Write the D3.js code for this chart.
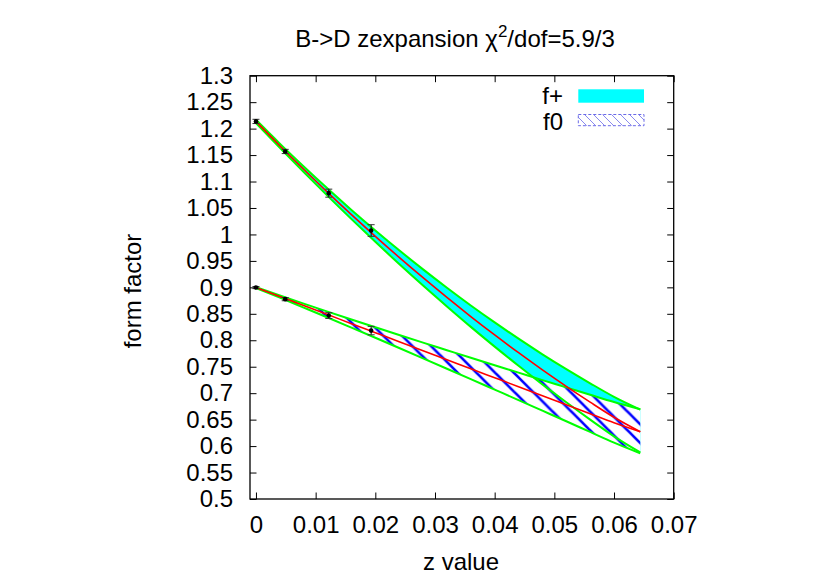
<!DOCTYPE html>
<html><head><meta charset="utf-8">
<script src="https://cdn.jsdelivr.net/npm/d3@7"></script>
<style>
html,body{margin:0;padding:0;background:#fff;}
svg{display:block;font-family:"Liberation Sans",Arial,Helvetica,sans-serif;}
</style></head>
<body><svg id="chart" width="830" height="581"></svg>
<script>
// ---- data ----
const zGrid = [0,0.004,0.008,0.012,0.016,0.020,0.024,0.028,0.032,0.036,0.040,0.044,0.048,0.052,0.056,0.060,0.0644];
const fpCentral = [1.2136,1.1677,1.1231,1.0796,1.0374,0.9965,0.9567,0.9182,0.8810,0.8449,0.8101,0.7765,0.7441,0.7130,0.6831,0.6544,0.6270];
const fpUpper   = [1.2166,1.1716,1.1285,1.0867,1.0464,1.0076,0.9701,0.9340,0.8993,0.8658,0.8338,0.8030,0.7735,0.7455,0.7187,0.6931,0.6690];
const fpLower   = [1.2106,1.1638,1.1179,1.0728,1.0289,0.9860,0.9441,0.9034,0.8639,0.8253,0.7880,0.7518,0.7167,0.6828,0.6500,0.6184,0.5880];
const f0Central = [0.8996,0.8826,0.8655,0.8485,0.8314,0.8144,0.7974,0.7803,0.7633,0.7462,0.7292,0.7122,0.6951,0.6781,0.6610,0.6440,0.6270];
const f0Upper   = [0.9006,0.8847,0.8693,0.8542,0.8393,0.8246,0.8100,0.7955,0.7812,0.7669,0.7528,0.7388,0.7247,0.7109,0.6970,0.6833,0.6696];
const f0Lower   = [0.8986,0.8805,0.8618,0.8430,0.8239,0.8047,0.7853,0.7658,0.7462,0.7265,0.7067,0.6869,0.6669,0.6469,0.6267,0.6066,0.5864];

const ptZ     = [0,0.0049,0.0122,0.0193];
const fpPts   = [1.2136,1.1568,1.0780,1.0074];
const fpErr   = [0.004,0.004,0.0076,0.011];
const f0Pts   = [0.8996,0.8777,0.8467,0.8183];
const f0Err   = [0.002,0.003,0.0055,0.008];

const xTicks = [0,0.01,0.02,0.03,0.04,0.05,0.06,0.07];
const xTickLabels = ["0","0.01","0.02","0.03","0.04","0.05","0.06","0.07"];
const yTicks = [0.5,0.55,0.6,0.65,0.7,0.75,0.8,0.85,0.9,0.95,1,1.05,1.1,1.15,1.2,1.25,1.3];
const yTickLabels = ["0.5","0.55","0.6","0.65","0.7","0.75","0.8","0.85","0.9","0.95","1","1.05","1.1","1.15","1.2","1.25","1.3"];
const legendLabels = ["f+","f0"];

(function(){
const L=250, R=673.7, T=75.7, B=499;
const FS = 24;
const FONT = "\"Liberation Sans\",Arial,Helvetica,sans-serif";
const svg = d3.select("#chart");
const x = d3.scaleLinear().domain([-0.001,0.07]).range([L,R]);
const y = d3.scaleLinear().domain([0.5,1.3]).range([B,T]);

const defs = svg.append("defs");
const hw = 18.7;
const pat = defs.append("pattern").attr("id","hatch").attr("patternUnits","userSpaceOnUse")
  .attr("x",10.2).attr("y",0).attr("width",hw).attr("height",hw);
[[0,0,hw,hw],[-2,hw-2,2,hw+2],[hw-2,-2,hw+2,2]].forEach(s=>{
  pat.append("line").attr("x1",s[0]).attr("y1",s[1]).attr("x2",s[2]).attr("y2",s[3])
    .attr("stroke","#0000ff").attr("stroke-width",2.6);
});
const lw = 9;
const pat2 = defs.append("pattern").attr("id","hatchLegend").attr("patternUnits","userSpaceOnUse")
  .attr("x",2).attr("y",0).attr("width",lw).attr("height",lw);
[[0,0,lw,lw],[-2,lw-2,2,lw+2],[lw-2,-2,lw+2,2]].forEach(s=>{
  pat2.append("line").attr("x1",s[0]).attr("y1",s[1]).attr("x2",s[2]).attr("y2",s[3])
    .attr("stroke","#8a8aee").attr("stroke-width",1);
});
defs.append("clipPath").attr("id","plotclip").append("rect")
  .attr("x",L).attr("y",T).attr("width",R-L).attr("height",B-T);

const g = svg.append("g").attr("clip-path","url(#plotclip)");
const idx = d3.range(zGrid.length);
const area = (lo,hi)=>d3.area().x(i=>x(zGrid[i])).y0(i=>y(lo[i])).y1(i=>y(hi[i])).curve(d3.curveMonotoneX);
const line = (arr)=>d3.line().x(i=>x(zGrid[i])).y(i=>y(arr[i])).curve(d3.curveMonotoneX);

g.append("path").attr("d",area(fpLower,fpUpper)(idx)).attr("fill","#00ffff");
g.append("path").attr("d",area(f0Lower,f0Upper)(idx)).attr("fill","#ffffff");
g.append("path").attr("d",area(f0Lower,f0Upper)(idx)).attr("fill","url(#hatch)");

[fpUpper,fpLower,f0Upper,f0Lower].forEach(a=>{
  g.append("path").attr("d",line(a)(idx)).attr("fill","none").attr("stroke","#00ff00").attr("stroke-width",2);
});
[fpCentral,f0Central].forEach(a=>{
  g.append("path").attr("d",line(a)(idx)).attr("fill","none").attr("stroke","#ff0000").attr("stroke-width",1.6);
});

function errPts(vals, errs){
  ptZ.forEach((z,i)=>{
    const cx=x(z), y1=y(vals[i]-errs[i]), y2=y(vals[i]+errs[i]);
    g.append("line").attr("x1",cx).attr("x2",cx).attr("y1",y1).attr("y2",y2).attr("stroke","#000").attr("stroke-width",1);
    [y1,y2].forEach(yy=>g.append("line").attr("x1",cx-3.5).attr("x2",cx+3.5).attr("y1",yy).attr("y2",yy).attr("stroke","#333").attr("stroke-width",1));
    g.append("circle").attr("cx",cx).attr("cy",y(vals[i])).attr("r",2.3).attr("fill","#000");
  });
}
errPts(fpPts,fpErr);
errPts(f0Pts,f0Err);

const ax = svg.append("g");
const axB = ax.append("g").attr("transform",`translate(0,${B})`)
  .call(d3.axisBottom(x).tickValues(xTicks).tickFormat((d,i)=>xTickLabels[i]).tickSize(-6.5).tickPadding(17));
const axL = ax.append("g").attr("transform",`translate(${L},0)`)
  .call(d3.axisLeft(y).tickValues(yTicks).tickFormat((d,i)=>yTickLabels[i]).tickSize(-6.5).tickPadding(17));
const axT = ax.append("g").attr("transform",`translate(0,${T})`)
  .call(d3.axisTop(x).tickValues(xTicks).tickFormat("").tickSize(-6.5));
const axR = ax.append("g").attr("transform",`translate(${R},0)`)
  .call(d3.axisRight(y).tickValues(yTicks).tickFormat("").tickSize(-6.5));
[axB,axL,axT,axR].forEach(a=>{
  a.select(".domain").remove();
  a.selectAll(".tick line").attr("stroke","#000").attr("stroke-width",1);
  a.selectAll(".tick text").attr("font-size",FS).attr("fill","#000").attr("font-family",FONT);
});
svg.append("rect").attr("x",L).attr("y",T).attr("width",R-L).attr("height",B-T)
  .attr("fill","none").attr("stroke","#000").attr("stroke-width",1.3);

const title = svg.append("text").attr("x",455).attr("y",47).attr("text-anchor","middle")
  .attr("font-size",FS).attr("fill","#000");
title.append("tspan").text("B->D zexpansion \u03c7");
title.append("tspan").attr("font-size",17).attr("dy",-10).text("2");
title.append("tspan").attr("dy",10).text("/dof=5.9/3");

svg.append("text").attr("x",461).attr("y",570).attr("text-anchor","middle").attr("font-size",FS).text("z value");
svg.append("text").attr("transform","translate(141,291) rotate(-90)").attr("text-anchor","middle").attr("font-size",FS).text("form factor");

const leg = svg.append("g");
leg.append("text").attr("x",563).attr("y",104).attr("text-anchor","end").attr("font-size",FS).text(legendLabels[0]);
leg.append("rect").attr("x",578.3).attr("y",89.3).attr("width",65.7).attr("height",13.4).attr("fill","#00ffff");
leg.append("text").attr("x",563).attr("y",129.5).attr("text-anchor","end").attr("font-size",FS).text(legendLabels[1]);
leg.append("rect").attr("x",578.3).attr("y",114.5).attr("width",65.7).attr("height",11.2)
  .attr("fill","url(#hatchLegend)").attr("stroke","#6a6ae8").attr("stroke-width",1).attr("stroke-dasharray","3,2");
})();
</script></body></html>
